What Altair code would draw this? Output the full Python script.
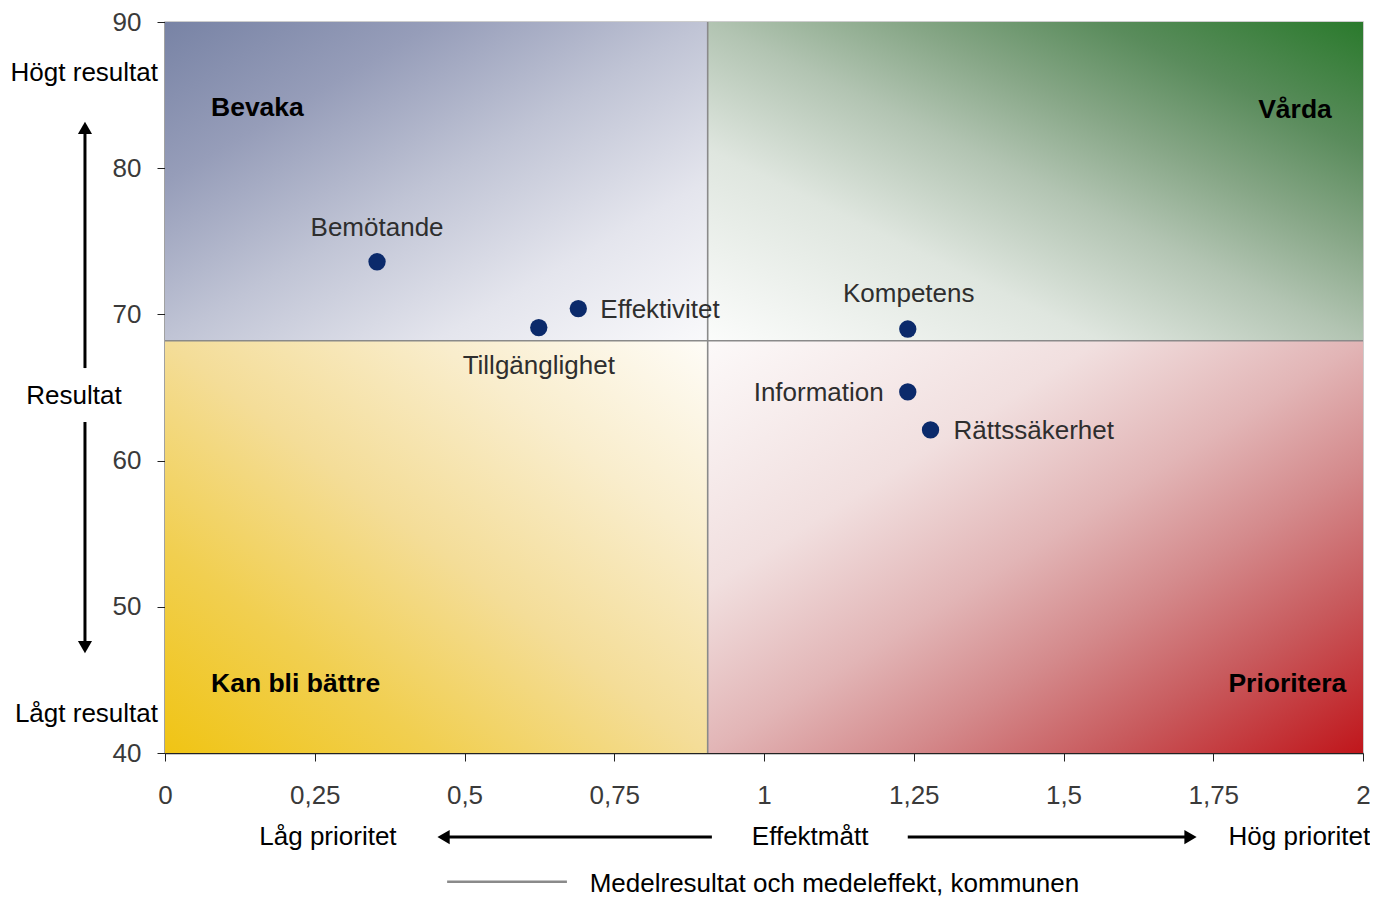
import altair as alt
import pandas as pd

# ---------------- data ----------------
categories = ["Bemötande", "Tillgänglighet", "Effektivitet", "Kompetens", "Information", "Rättssäkerhet"]
effekt = [0.354, 0.624, 0.690, 1.240, 1.240, 1.278]
resultat = [73.6, 69.1, 70.4, 69.0, 64.7, 62.1]
mean_effekt = 0.906
mean_resultat = 68.2
x_ticks = [0, 0.25, 0.5, 0.75, 1, 1.25, 1.5, 1.75, 2]
y_ticks = [40, 50, 60, 70, 80, 90]
quadrant_names = ["Bevaka", "Vårda", "Kan bli bättre", "Prioritera"]
legend_label = "Medelresultat och medeleffekt, kommunen"

# ---------------- layout / style ----------------
FONT = "Liberation Sans"
FS = 26
W, H = 1198, 731
xs = alt.Scale(domain=[0, 2], nice=False, zero=False)
ys = alt.Scale(domain=[40, 90], nice=False, zero=False)

# label placement for each point: (align, dx, dy)
label_style = {
    "Bemötande": ("center", 0, -34),
    "Tillgänglighet": ("center", 0, 38),
    "Effektivitet": ("left", 22, 1),
    "Kompetens": ("center", 1, -35),
    "Information": ("right", -24, 1),
    "Rättssäkerhet": ("left", 23, 1),
}

def grad(stops, x1, y1, x2, y2):
    return alt.LinearGradient(
        gradient="linear",
        stops=[alt.GradientStop(color=c, offset=o) for o, c in stops],
        x1=x1, y1=y1, x2=x2, y2=y2,
    )

blue = [(0, "#7883a5"), (0.25, "#969db9"), (0.5, "#c0c4d5"), (0.75, "#e4e5ed"), (1, "#f9f9fb")]
green = [(0, "#2a7a2c"), (0.2, "#5a8c5c"), (0.35, "#86a686"), (0.5, "#b2c4b2"), (0.7, "#dfe6df"), (1, "#fbfcfb")]
yellow = [(0, "#f0c414"), (0.25, "#f1cf50"), (0.5, "#f4dd98"), (0.75, "#f9edcc"), (1, "#fefcf7")]
red = [(0, "#c0161b"), (0.2, "#c85a5d"), (0.35, "#d48a8c"), (0.5, "#e2b5b6"), (0.7, "#f1dfdf"), (1, "#fcf9f9")]

quads = [
    (0, mean_effekt, mean_resultat, 90, grad(blue, 0, 0, 1, 1)),
    (mean_effekt, 2, mean_resultat, 90, grad(green, 1, 0, 0, 1)),
    (0, mean_effekt, 40, mean_resultat, grad(yellow, 0, 1, 1, 0)),
    (mean_effekt, 2, 40, mean_resultat, grad(red, 1, 1, 0, 0)),
]

layers = []
for x0, x1_, y0, y1_, g in quads:
    d = pd.DataFrame({"x": [x0], "x2": [x1_], "y": [y0], "y2": [y1_]})
    layers.append(
        alt.Chart(d).mark_rect(color=g).encode(
            x=alt.X("x:Q", scale=xs,
                    axis=alt.Axis(values=x_ticks, title=None, grid=False,
                                  labelExpr="replace(toString(datum.value), '.', ',')",
                                  labelFont=FONT, labelFontSize=FS, labelColor="#3a3a3a",
                                  labelPadding=21, tickSize=8, tickColor="#222",
                                  domainColor="#222", domainWidth=1.5, labelFlush=False)),
            x2="x2:Q",
            y=alt.Y("y:Q", scale=ys,
                    axis=alt.Axis(values=y_ticks, title=None, grid=False,
                                  labelFont=FONT, labelFontSize=FS, labelColor="#3a3a3a",
                                  labelPadding=16, tickSize=8, tickColor="#222",
                                  domainColor="#222", domainWidth=1.5, labelFlush=False)),
            y2="y2:Q",
        )
    )

# mean lines
vline = pd.DataFrame({"x": [mean_effekt], "y": [40], "y2": [90]})
hline = pd.DataFrame({"y": [mean_resultat], "x": [0], "x2": [2]})
layers.append(alt.Chart(vline).mark_rule(color="#8a8a8a", strokeWidth=1.6).encode(
    x=alt.X("x:Q", scale=xs), y=alt.Y("y:Q", scale=ys), y2="y2:Q"))
layers.append(alt.Chart(hline).mark_rule(color="#8a8a8a", strokeWidth=1.6).encode(
    y=alt.Y("y:Q", scale=ys), x=alt.X("x:Q", scale=xs), x2="x2:Q"))

# points
pts = pd.DataFrame({"name": categories, "effekt": effekt, "resultat": resultat})
layers.append(alt.Chart(pts).mark_circle(size=300, color="#0b2a6b", opacity=1).encode(
    x=alt.X("effekt:Q", scale=xs), y=alt.Y("resultat:Q", scale=ys)))

for name in categories:
    al, dx, dy = label_style[name]
    layers.append(
        alt.Chart(pts[pts["name"] == name]).mark_text(
            align=al, baseline="middle", dx=dx, dy=dy, font=FONT, fontSize=FS, color="#2e2e2e"
        ).encode(x=alt.X("effekt:Q", scale=xs), y=alt.Y("resultat:Q", scale=ys), text="name:N")
    )

# quadrant titles
qt = pd.DataFrame({
    "name": quadrant_names,
    "x": [0.0768, 1.948, 0.0768, 1.972],
    "y": [84.1, 83.98, 44.72, 44.72],
    "align": ["left", "right", "left", "right"],
})
for al in ["left", "right"]:
    layers.append(alt.Chart(qt[qt["align"] == al]).mark_text(
        align=al, baseline="middle", font=FONT, fontSize=26.5, fontWeight="bold", color="#000000"
    ).encode(x=alt.X("x:Q", scale=xs), y=alt.Y("y:Q", scale=ys), text="name:N"))

# outer annotations (text)
ann_right = pd.DataFrame({"t": ["Högt resultat", "Lågt resultat"], "x": [-0.0117, -0.0117], "y": [86.5, 42.67]})
layers.append(alt.Chart(ann_right).mark_text(
    align="right", baseline="middle", font=FONT, fontSize=FS, color="#000")
    .encode(x=alt.X("x:Q", scale=xs), y=alt.Y("y:Q", scale=ys), text="t:N"))

ann_center = pd.DataFrame({
    "t": ["Resultat", "Låg prioritet", "Effektmått"],
    "x": [-0.152, 0.272, 1.077],
    "y": [64.42, 34.25, 34.25],
})
layers.append(alt.Chart(ann_center).mark_text(
    align="center", baseline="middle", font=FONT, fontSize=FS, color="#000")
    .encode(x=alt.X("x:Q", scale=xs), y=alt.Y("y:Q", scale=ys), text="t:N"))

ann_hog = pd.DataFrame({"t": ["Hög prioritet"], "x": [2.012], "y": [34.25]})
layers.append(alt.Chart(ann_hog).mark_text(
    align="right", baseline="middle", font=FONT, fontSize=FS, color="#000")
    .encode(x=alt.X("x:Q", scale=xs), y=alt.Y("y:Q", scale=ys), text="t:N"))

# arrows: shafts
shafts_v = pd.DataFrame({"x": [-0.1336, -0.1336], "y": [82.6, 62.64], "y2": [66.33, 47.2]})
layers.append(alt.Chart(shafts_v).mark_rule(color="#000", strokeWidth=3).encode(
    x=alt.X("x:Q", scale=xs), y=alt.Y("y:Q", scale=ys), y2="y2:Q"))
shafts_h = pd.DataFrame({"y": [34.25, 34.25], "x": [0.467, 1.24], "x2": [0.913, 1.71]})
layers.append(alt.Chart(shafts_h).mark_rule(color="#000", strokeWidth=3).encode(
    y=alt.Y("y:Q", scale=ys), x=alt.X("x:Q", scale=xs), x2="x2:Q"))

# arrow heads
heads = [
    (-0.1336, 82.75, "triangle-up"),
    (-0.1336, 47.25, "triangle-down"),
    (0.465, 34.25, "triangle-left"),
    (1.712, 34.25, "triangle-right"),
]
for hx, hy, shp in heads:
    d = pd.DataFrame({"x": [hx], "y": [hy]})
    layers.append(alt.Chart(d).mark_point(shape=shp, filled=True, size=200, color="#000", opacity=1).encode(
        x=alt.X("x:Q", scale=xs), y=alt.Y("y:Q", scale=ys)))

# legend (mean line)
leg_line = pd.DataFrame({"x": [0.471], "x2": [0.671], "y": [31.2]})
layers.append(alt.Chart(leg_line).mark_rule(color="#8a8a8a", strokeWidth=2.5).encode(
    x=alt.X("x:Q", scale=xs), x2="x2:Q", y=alt.Y("y:Q", scale=ys)))
leg_text = pd.DataFrame({"t": [legend_label], "x": [0.709], "y": [31.05]})
layers.append(alt.Chart(leg_text).mark_text(
    align="left", baseline="middle", font=FONT, fontSize=FS, color="#000")
    .encode(x=alt.X("x:Q", scale=xs), y=alt.Y("y:Q", scale=ys), text="t:N"))

chart = alt.layer(*layers).properties(
    width=W, height=H,
    autosize=alt.AutoSizeParams(type="none"),
    padding={"left": 157, "top": 14, "right": 7, "bottom": 144},
    background="#ffffff",
).configure_view(stroke="#bdbdbd", strokeWidth=1.5)

chart.save("out.html", embed_options={"renderer": "svg", "actions": False})
